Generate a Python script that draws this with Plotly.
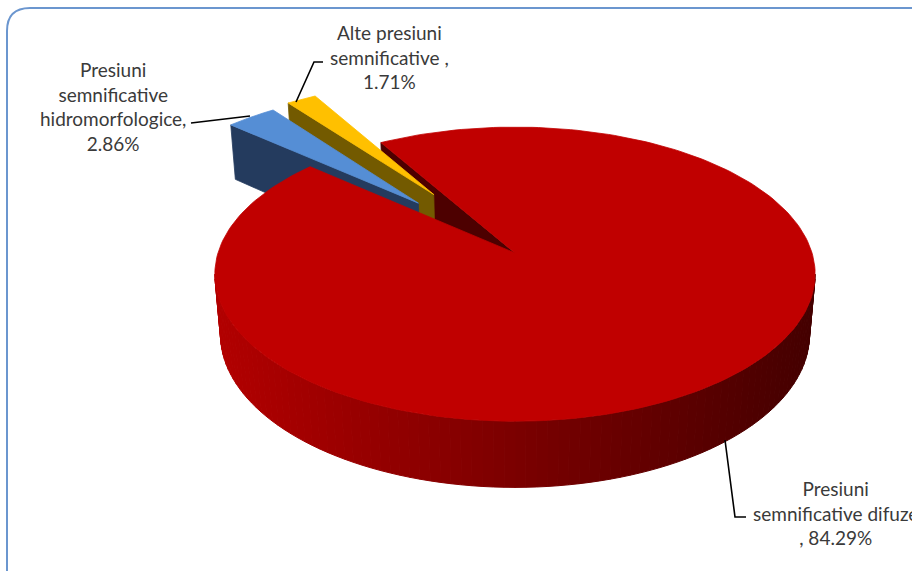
import numpy as np
import plotly.graph_objects as go

# ---- data -------------------------------------------------------------
categories = [
    "Presiuni semnificative difuze",
    "Presiuni semnificative hidromorfologice",
    "Alte presiuni semnificative",
]
values = [84.29, 2.86, 1.71]
label_names = [
    ["Presiuni", "semnificative difuze", ", "],
    ["Presiuni", "semnificative", "hidromorfologice,", ""],
    ["Alte presiuni", "semnificative ,", ""],
]

# ---- styling ----------------------------------------------------------
top_colors = ["#c00000", "#558ed5", "#ffc000"]
face_colors = ["#4d0000", "#243b5e", "#735a00"]
pulls = [0.0, 0.50, 0.52]
START_ANGLE = -30.5          # degrees, clockwise from 12 o'clock

# simple perspective camera for the 3D pie
ALPHA = np.radians(29.0)
FOCAL, DIST = 1806.0, 6.08
CX, CY = 515.0, 253.0
THICK = 0.235

W, H = 912, 571


def project(X, Y, Z):
    X, Y, Z = (np.asarray(a, dtype=float) for a in (X, Y, Z))
    d = DIST + Y * np.cos(ALPHA) - Z * np.sin(ALPHA)
    yc = Y * np.sin(ALPHA) + Z * np.cos(ALPHA)
    return CX + FOCAL * X / d, CY - FOCAL * yc / d


def poly(X, Y, Z, color, lw=0.8):
    xs, ys = project(X, Y, Z)
    xs = np.append(xs, xs[0])
    ys = np.append(ys, ys[0])
    return go.Scatter(x=xs, y=ys, mode="lines", fill="toself",
                      fillcolor=color, line=dict(color=color, width=lw),
                      hoverinfo="skip", showlegend=False)


total = sum(values)
spans = [360.0 * v / total for v in values]
starts = [START_ANGLE + sum(spans[:i]) for i in range(len(values))]


def slice_geom(i):
    a0, a1 = starts[i], starts[i] + spans[i]
    mid = np.radians((a0 + a1) / 2)
    return a0, a1, pulls[i] * np.sin(mid), pulls[i] * np.cos(mid)


def start_face(i):
    a0, a1, ox, oy = slice_geom(i)
    s0 = np.radians(a0)
    return poly([ox, ox + np.sin(s0), ox + np.sin(s0), ox],
                [oy, oy + np.cos(s0), oy + np.cos(s0), oy],
                [0, 0, -THICK, -THICK], face_colors[i])


def top_face(i):
    a0, a1, ox, oy = slice_geom(i)
    th = np.radians(np.linspace(a0, a1, 240))
    X = np.concatenate([[ox], ox + np.sin(th)])
    Y = np.concatenate([[oy], oy + np.cos(th)])
    return poly(X, Y, np.zeros_like(X), top_colors[i])


def outer_wall(i):
    # front part of the rim, shaded from left (lit) to right (dark)
    a0, a1, ox, oy = slice_geom(i)
    ts = np.degrees(np.arccos(-np.cos(ALPHA) / DIST))
    lo, hi = max(ts, a0), min(360 - ts, a1)
    edges = np.radians(np.linspace(lo, hi, 91))
    out = []
    for ta, tb in zip(edges[:-1], edges[1:]):
        xm, _ = project(ox + np.sin((ta + tb) / 2), oy + np.cos((ta + tb) / 2), 0)
        t = float(np.clip((xm - (CX - 300)) / 600, 0, 1))
        r = int(round(178 + (68 - 178) * t))
        col = f"rgb({r},0,0)"
        out.append(poly(
            [ox + np.sin(ta), ox + np.sin(tb), ox + np.sin(tb), ox + np.sin(ta)],
            [oy + np.cos(ta), oy + np.cos(tb), oy + np.cos(tb), oy + np.cos(ta)],
            [0, 0, -THICK, -THICK], col, lw=1.0))
    return out


fig = go.Figure()
# inner face of the large slice, then the pulled-out slices, then rim and top
fig.add_trace(start_face(0))
for i in [2, 1]:
    fig.add_trace(start_face(i))
    fig.add_trace(top_face(i))
for tr in outer_wall(0):
    fig.add_trace(tr)
fig.add_trace(top_face(0))

# ---- leader lines -----------------------------------------------------
leaders = [
    ([725, 735, 746], [440, 517, 517]),
    ([191, 250], [123, 116]),
    ([323, 314, 296], [62, 62, 102]),
]
for lx, ly in leaders:
    fig.add_trace(go.Scatter(x=lx, y=ly, mode="lines",
                             line=dict(color="#000000", width=1.6),
                             hoverinfo="skip", showlegend=False))

# ---- data labels --------------------------------------------------------
label_pos = [(835, 513), (113, 106), (389, 57)]
for i, (lx, ly) in enumerate(label_pos):
    lines = list(label_names[i])
    lines[-1] = lines[-1] + f"{values[i]:.2f}%"
    fig.add_annotation(x=lx, y=ly, xref="x", yref="y", text="<br>".join(lines),
                       showarrow=False, xanchor="center", yanchor="middle",
                       align="center",
                       font=dict(family="Lato, 'Open Sans', sans-serif",
                                 size=19, color="#3a3a3a"))

# chart area border (rounded corner, continues past the page edge)
fig.add_shape(type="path", xref="x", yref="y",
              path="M 7 700 L 7 31 Q 7 8 30 8 L 1000 8",
              line=dict(color="#6b96cf", width=2), layer="below")

fig.update_layout(
    width=W, height=H,
    margin=dict(l=0, r=0, t=0, b=0),
    paper_bgcolor="white", plot_bgcolor="white",
    xaxis=dict(range=[0, W], visible=False, fixedrange=True),
    yaxis=dict(range=[H, 0], visible=False, fixedrange=True),
    showlegend=False,
)

fig.write_html("out.html")
